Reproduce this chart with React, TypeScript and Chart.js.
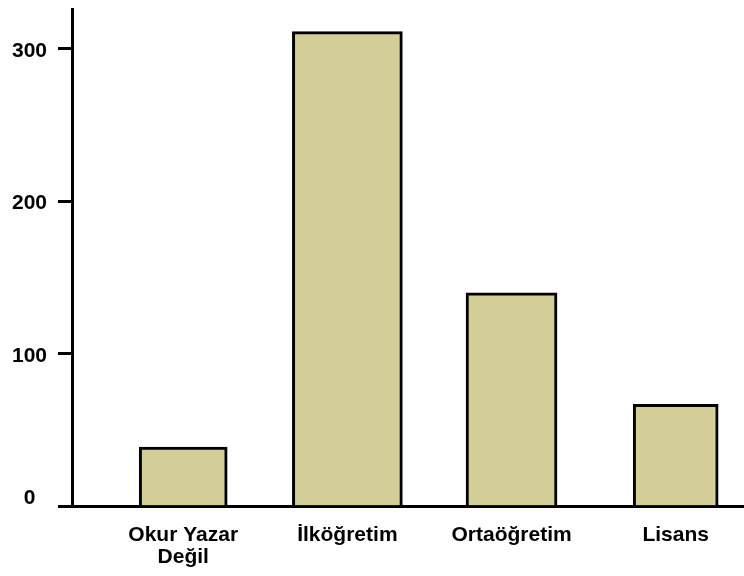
import React, { useEffect, useRef } from 'react';
import { Chart, registerables } from 'chart.js';

Chart.register(...registerables);

// ---- data ----
const CATEGORIES = ['Okur Yazar Değil', 'İlköğretim', 'Ortaöğretim', 'Lisans'];
const CATEGORY_LABEL_LINES: string[][] = [['Okur Yazar', 'Değil'], ['İlköğretim'], ['Ortaöğretim'], ['Lisans']];
const COUNTS = [39, 311, 140, 67];
const Y_TICKS = [0, 100, 200, 300];

// ---- style ----
const BAR_WIDTHS = [88, 110, 91, 85];
const BAR_FILL = '#d3ce97';
const INK = '#000000';
const FONT = { family: '"Liberation Sans", Arial, Helvetica, sans-serif', size: 21, weight: 'bold' as const, lineHeight: 1.05 };

export default function App() {
  const canvasRef = useRef<HTMLCanvasElement | null>(null);

  useEffect(() => {
    const canvas = canvasRef.current;
    if (!canvas) return;

    const datasets = COUNTS.map((v, i) => ({
      label: CATEGORIES[i],
      data: [{ x: i, y: v }],
      backgroundColor: BAR_FILL,
      borderColor: INK,
      borderWidth: 3,
      borderSkipped: 'start' as const,
      grouped: false,
      barPercentage: 1,
      categoryPercentage: 1,
      maxBarThickness: BAR_WIDTHS[i],
    }));

    const chart = new Chart(canvas, {
      type: 'bar',
      data: { datasets: datasets as any },
      options: {
        animation: false,
        responsive: false,
        devicePixelRatio: 1,
        layout: { padding: { top: 9.5, left: 0, right: 0, bottom: 0 } },
        plugins: {
          legend: { display: false },
          tooltip: { enabled: false },
        },
        scales: {
          x: {
            type: 'linear',
            min: -0.6774,
            max: 3.416,
            offset: false,
            afterBuildTicks: (axis: any) => {
              axis.ticks = CATEGORIES.map((_, i) => ({ value: i }));
            },
            afterFit: (axis: any) => {
              axis.height = 69.3;
              axis.paddingLeft = 0;
              axis.paddingRight = 0;
            },
            grid: {
              display: true,
              drawOnChartArea: false,
              drawTicks: false,
              lineWidth: 3,
              color: INK,
            },
            border: { display: true, color: INK, width: 3 },
            ticks: {
              autoSkip: false,
              maxRotation: 0,
              minRotation: 0,
              padding: 17,
              color: INK,
              font: FONT,
              callback: (v: any) => {
                const idx = Number(v);
                return Number.isInteger(idx) && CATEGORY_LABEL_LINES[idx] ? CATEGORY_LABEL_LINES[idx] : '';
              },
            },
          },
          y: {
            type: 'linear',
            min: 0,
            max: 325.5,
            afterBuildTicks: (axis: any) => {
              axis.ticks = Y_TICKS.map((v) => ({ value: v }));
            },
            afterFit: (axis: any) => {
              axis.width = 72;
              axis.paddingTop = 0;
              axis.paddingBottom = 0;
            },
            grid: {
              display: true,
              drawOnChartArea: false,
              drawTicks: true,
              tickLength: 14,
              lineWidth: 3,
              color: INK,
            },
            border: { display: true, color: INK, width: 3 },
            ticks: {
              padding: 11,
              labelOffset: 2.5,
              color: INK,
              font: FONT,
              callback: (v: any) => (Number(v) === 0 ? ['0\u00a0\u00a0', ''] : String(v)),
            },
          },
        },
      },
    });

    return () => chart.destroy();
  }, []);

  return (
    <div style={{ position: 'absolute', left: 0, top: 0, width: 744, height: 576, background: '#ffffff' }}>
      <canvas ref={canvasRef} width={744} height={576} style={{ display: 'block', width: 744, height: 576 }} />
    </div>
  );
}
